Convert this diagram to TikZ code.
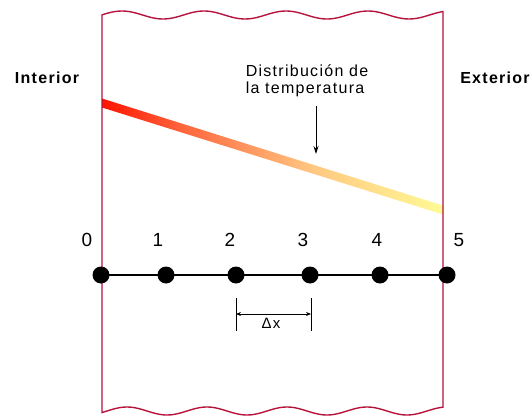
\documentclass[tikz,border=0pt]{standalone}
\usepackage{fontspec}
\setmainfont{Liberation Sans}
\newfontfamily\spaced[LetterSpace=8]{Liberation Sans}
\usetikzlibrary{arrows.meta}
\definecolor{wallred}{RGB}{181,18,60}
\definecolor{tred}{RGB}{255,20,0}
\definecolor{tredor}{RGB}{255,100,60}
\definecolor{tpeach}{RGB}{255,200,130}
\definecolor{tyellow}{RGB}{255,250,150}
\pgfdeclarehorizontalshading{tempgrad}{100bp}{color(0bp)=(tred); color(25bp)=(tred);
  color(36.5bp)=(tredor); color(56bp)=(tpeach); color(75bp)=(tyellow); color(100bp)=(tyellow)}

\begin{document}
\begin{tikzpicture}[x=1pt,y=-1pt,
  wall/.style={draw=wallred,line width=1.4pt},
  pt/.style={circle,fill=black,inner sep=0pt,minimum size=17pt},
  num/.style={font=\fontsize{19}{22}\selectfont},
  side/.style={font=\spaced\fontsize{16}{19}\bfseries\selectfont}]
\useasboundingbox (0,0) rectangle (532,417);

\shade[shading=tempgrad]
  (102,98.5) -- (443,205.5) -- (443,214.5) -- (102,107.5) -- cycle;

\draw[wall] plot[domain=102:443,samples=120,smooth] (\x,{15-4*cos(((\x-122)/82)*360)})
  -- plot[domain=443:102,samples=120,smooth] (\x,{411-4*cos(((\x-127)/80)*360)}) -- cycle;

\node[side] (int) at (47,78) {Interior};
\node[side] (ext) at (495,78) {Exterior};

\node[font=\spaced\fontsize{16}{17}\selectfont,align=left] (dist) at (307,81) {Distribución de\\la temperatura};
\coordinate (atop) at (316,106);
\coordinate (atip) at (316,154);
\draw[-{Stealth[length=8pt,width=5pt]},line width=0.8pt] (atop) -- (atip);

\foreach \n/\x in {0/101,1/166,2/236,3/310,4/380,5/447}
  \node[pt] (d\n) at (\x,275) {};
\draw[line width=1.2pt] (d0.center) -- (d5.center);
\foreach \n/\x in {0/87,1/158,2/230,3/303,4/377,5/459}
  \node[num] (n\n) at (\x,240) {\n};

\coordinate (l1) at (236,298); \coordinate (l2) at (236,331);
\coordinate (r1) at (311,298); \coordinate (r2) at (311,331);
\coordinate (la) at (236,314); \coordinate (ra) at (311,314);
\draw[line width=0.9pt] (l1) -- (l2);
\draw[line width=0.9pt] (r1) -- (r2);
\draw[{Stealth[length=5pt,width=4pt]}-{Stealth[length=5pt,width=4pt]},line width=0.8pt] (la) -- (ra);
\node[font=\spaced\fontsize{15}{17}\selectfont] (dx) at (271,323.5) {Δx};
\end{tikzpicture}
\end{document}
